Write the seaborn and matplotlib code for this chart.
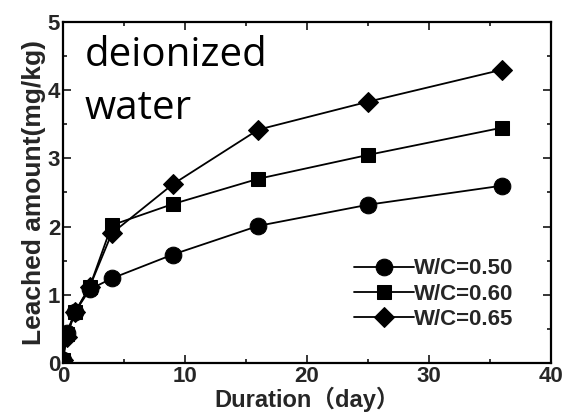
import matplotlib
matplotlib.use("Agg")
import matplotlib.pyplot as plt
import seaborn as sns
import pandas as pd
from matplotlib.ticker import MultipleLocator

days = [0, 0.3, 1, 2.2, 4, 9, 16, 25, 36]
wc050 = [0.05, 0.44, 0.75, 1.08, 1.24, 1.59, 2.01, 2.32, 2.60]
wc060 = [0.05, 0.42, 0.75, 1.12, 2.02, 2.33, 2.70, 3.05, 3.45]
wc065 = [0.05, 0.38, 0.75, 1.12, 1.90, 2.62, 3.42, 3.83, 4.30]
labels = ["W/C=0.50", "W/C=0.60", "W/C=0.65"]

df = pd.concat([
    pd.DataFrame({"Duration": days, "Leached": v, "series": lab})
    for v, lab in zip([wc050, wc060, wc065], labels)
])

sns.set_style("white")
plt.rcParams['font.family'] = ['Liberation Sans', 'Noto Sans CJK SC', 'DejaVu Sans']

fig = plt.figure(figsize=(5.67, 4.13), dpi=100)
ax = fig.add_axes([0.111, 0.121, 0.861, 0.826])

sns.lineplot(data=df, x="Duration", y="Leached", style="series",
             markers={labels[0]: "o", labels[1]: "s", labels[2]: "D"},
             dashes=False, color="black", linewidth=1.3, markersize=12,
             markeredgecolor="black", ax=ax, legend=True)
for line in ax.lines:
    if line.get_marker() in ("s", "D"):
        line.set_markersize(10)

ax.set_xlim(0, 40)
ax.set_ylim(0, 5)
ax.xaxis.set_major_locator(MultipleLocator(10))
ax.xaxis.set_minor_locator(MultipleLocator(5))
ax.yaxis.set_major_locator(MultipleLocator(1))
ax.yaxis.set_minor_locator(MultipleLocator(0.5))
ax.tick_params(which="both", direction="in", top=True, right=True,
               bottom=True, left=True, width=1.3)
ax.tick_params(which="major", length=6, labelsize=16, pad=2)
ax.tick_params(which="minor", length=3)
for lab in ax.get_xticklabels() + ax.get_yticklabels():
    lab.set_fontweight("bold")
for s in ax.spines.values():
    s.set_linewidth(1.6)
    s.set_color("black")

ax.set_xlabel("Duration（day）", fontsize=17, fontweight="bold", labelpad=0)
ax.set_ylabel("Leached amount(mg/kg)", fontsize=19, fontweight="bold", labelpad=1)

ax.text(0.045, 0.96, "deionized\nwater", transform=ax.transAxes, va="top", ha="left",
        fontsize=29, family=["Open Sans", "DejaVu Sans"], fontweight="normal",
        color="black", linespacing=1.4)

handles, labs = ax.get_legend_handles_labels()
leg = ax.legend(handles, labs, loc="lower right", bbox_to_anchor=(0.5, 0.07, 0.44, 0.3),
                frameon=False, fontsize=16, handlelength=2.7, handletextpad=0.0,
                labelspacing=0.2, borderaxespad=0)
for t in leg.get_texts():
    t.set_fontweight("bold")

fig.savefig("out.png", dpi=100)
